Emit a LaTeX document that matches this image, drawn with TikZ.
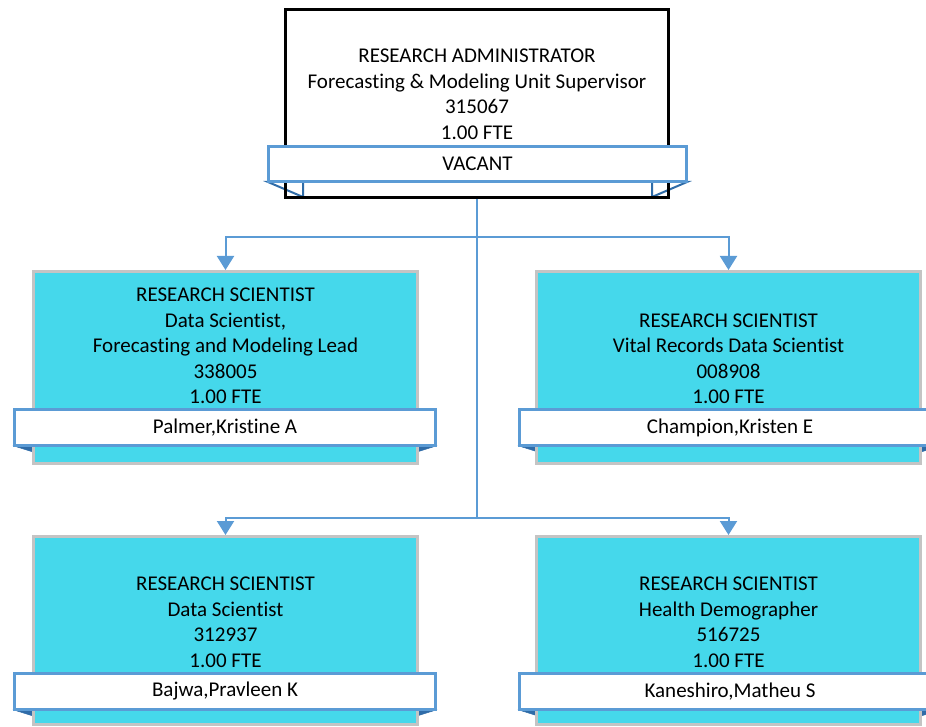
\documentclass[tikz,border=0pt]{standalone}
\usepackage{fontspec}
\setmainfont[Ligatures=NoCommon]{Carlito}
\usetikzlibrary{arrows.meta}
\definecolor{lineblue}{HTML}{5B9BD5}
\definecolor{tailblue}{HTML}{2F6CA8}
\definecolor{cyanfill}{HTML}{45D8EB}
\definecolor{boxgray}{HTML}{C4C4C4}
\begin{document}
\begin{tikzpicture}[x=1pt,y=-1pt,
  posbox/.style={draw=boxgray, line width=3pt, fill=cyanfill, inner sep=0pt, minimum width=384pt, minimum height=192pt},
  headbox/.style={draw=black, line width=3pt, inner sep=0pt, minimum width=383pt, minimum height=188pt},
  banner/.style={draw=lineblue, line width=3pt, fill=white, inner sep=0pt, minimum width=421pt, minimum height=36pt, font=\fontsize{21}{25}\selectfont},
  txt/.style={align=center, inner sep=0pt, font=\fontsize{21}{25.5}\selectfont},
  tail/.style={fill=tailblue, draw=tailblue, line width=0.5pt},
  conn/.style={draw=lineblue, line width=2pt},
  arr/.style={conn, -{Triangle[width=17pt,length=14pt]}}
]
\useasboundingbox (0,0) rectangle (926,727);

% ---------- top box ----------
\draw[draw=tailblue, fill=white, line width=2pt] (268,182) -- (303,182) -- (303,197) -- cycle;
\draw[draw=tailblue, fill=white, line width=2pt] (687,182) -- (652,182) -- (652,197) -- cycle;
\node[headbox] (top) at (477,103.5) {};
\node[txt] (toptxt) at (477,94.5) {RESEARCH ADMINISTRATOR\\Forecasting \& Modeling Unit Supervisor\\315067\\1.00 FTE};
\node[banner, minimum width=418pt, minimum height=35pt] (topname) at (477.5,164) {VACANT};

% ---------- left middle ----------
\fill[tail] (14,446) -- (52,446) -- (52,458) -- cycle;
\fill[tail] (436,446) -- (398,446) -- (398,458) -- cycle;
\node[posbox] (ls) at (225.5,367.5) {};
\node[txt] (lstxt) at (225.5,346) {RESEARCH SCIENTIST\\Data Scientist,\\Forecasting and Modeling Lead\\338005\\1.00 FTE};
\node[banner] (lsname) at (225,427.5) {Palmer,Kristine A};

% ---------- right middle ----------
\fill[tail] (519,446) -- (557,446) -- (557,458) -- cycle;
\fill[tail] (940,446) -- (902,446) -- (902,458) -- cycle;
\node[posbox] (rs) at (728.5,367.5) {};
\node[txt] (rstxt) at (728.5,359) {RESEARCH SCIENTIST\\Vital Records Data Scientist\\008908\\1.00 FTE};
\node[banner] (rsname) at (730,427.5) {Champion,Kristen E};

% ---------- left bottom ----------
\fill[tail] (14,710) -- (52,710) -- (52,722) -- cycle;
\fill[tail] (436,710) -- (398,710) -- (398,722) -- cycle;
\node[posbox, minimum height=188pt] (lb) at (225.5,630.5) {};
\node[txt] (lbtxt) at (225.5,622.5) {RESEARCH SCIENTIST\\Data Scientist\\312937\\1.00 FTE};
\node[banner] (lbname) at (225,691.5) {Bajwa,Pravleen K};

% ---------- right bottom ----------
\fill[tail] (519,710) -- (557,710) -- (557,722) -- cycle;
\fill[tail] (940,710) -- (902,710) -- (902,722) -- cycle;
\node[posbox, minimum height=188pt] (rb) at (728.5,630.5) {};
\node[txt] (rbtxt) at (728.5,622.5) {RESEARCH SCIENTIST\\Health Demographer\\516725\\1.00 FTE};
\node[banner] (rbname) at (730,691.5) {Kaneshiro,Matheu S};

% ---------- connectors ----------
\coordinate (hA) at (477,237);
\coordinate (hB) at (477,518);
\draw[conn] (top.south) -- (hB);
\draw[arr] (hA) -| (ls.north);
\draw[arr] (hA) -| (rs.north);
\draw[arr] (hB) -| (lb.north);
\draw[arr] (hB) -| (rb.north);
\end{tikzpicture}
\end{document}
